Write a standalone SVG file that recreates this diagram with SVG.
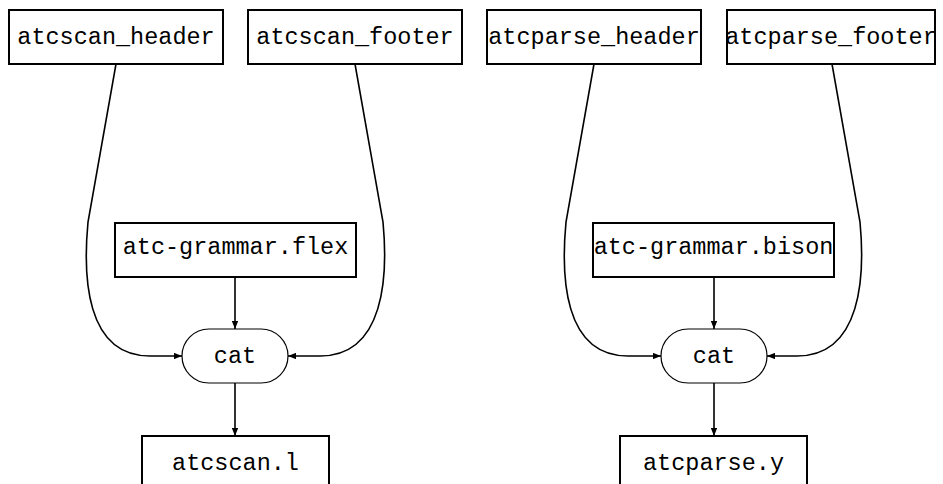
<svg xmlns="http://www.w3.org/2000/svg" width="943" height="484" viewBox="0 0 943 484">
<defs>
<marker id="arr" viewBox="0 0 10 8" refX="10" refY="4" markerWidth="8" markerHeight="6.4" markerUnits="userSpaceOnUse" orient="auto">
<path d="M0,0 L10,4 L0,8 Z" fill="#000"/>
</marker>
<style>
.box{fill:#fff;stroke:#000;stroke-width:2}
.pill{fill:#fff;stroke:#000;stroke-width:1.2}
.lbl{font-family:"Liberation Mono","DejaVu Sans Mono",monospace;font-size:23.5px;fill:#000;text-anchor:middle}
.edge{fill:none;stroke:#000;stroke-width:1.6}
</style>
</defs>
<g id="connectors">
<path class="edge" d="M116,64 L88,222 C83,275 85,356 150,356 L182,356" marker-end="url(#arr)"/>
<path class="edge" d="M355,64 L383,222 C388,275 385,356 320,356 L288,356" marker-end="url(#arr)"/>
<path class="edge" d="M235,277 L235,329" marker-end="url(#arr)"/>
<path class="edge" d="M235,383 L235,436" marker-end="url(#arr)"/>
<path class="edge" d="M594,64 L566,222 C561,275 563,356 628,356 L661,356" marker-end="url(#arr)"/>
<path class="edge" d="M832,64 L860,222 C865,275 862,356 797,356 L767,356" marker-end="url(#arr)"/>
<path class="edge" d="M714,277 L714,329" marker-end="url(#arr)"/>
<path class="edge" d="M714,383 L714,436" marker-end="url(#arr)"/>
</g>
<g id="atcscan_header"><rect class="box" x="9" y="10" width="214" height="54"/><text class="lbl" x="116" y="44">atcscan_header</text></g>
<g id="atcscan_footer"><rect class="box" x="248" y="10" width="214" height="54"/><text class="lbl" x="355" y="44">atcscan_footer</text></g>
<g id="atcparse_header"><rect class="box" x="487" y="10" width="214" height="54"/><text class="lbl" x="594" y="44">atcparse_header</text></g>
<g id="atcparse_footer"><rect class="box" x="727" y="10" width="208" height="54"/><text class="lbl" x="831" y="44">atcparse_footer</text></g>
<g id="atc-grammar_flex"><rect class="box" x="115" y="223" width="241" height="54"/><text class="lbl" x="235.5" y="254">atc-grammar.flex</text></g>
<g id="atc-grammar_bison"><rect class="box" x="593" y="223" width="241" height="54"/><text class="lbl" x="713.5" y="254">atc-grammar.bison</text></g>
<g id="cat1"><rect class="pill" x="182" y="329" width="106" height="54" rx="27" ry="27"/><text class="lbl" x="235" y="363">cat</text></g>
<g id="cat2"><rect class="pill" x="661" y="329" width="106" height="54" rx="27" ry="27"/><text class="lbl" x="714" y="363">cat</text></g>
<g id="atcscan_l"><rect class="box" x="142" y="436" width="187" height="60"/><text class="lbl" x="235.5" y="470">atcscan.l</text></g>
<g id="atcparse_y"><rect class="box" x="620" y="436" width="187" height="60"/><text class="lbl" x="713.5" y="470">atcparse.y</text></g>
</svg>
